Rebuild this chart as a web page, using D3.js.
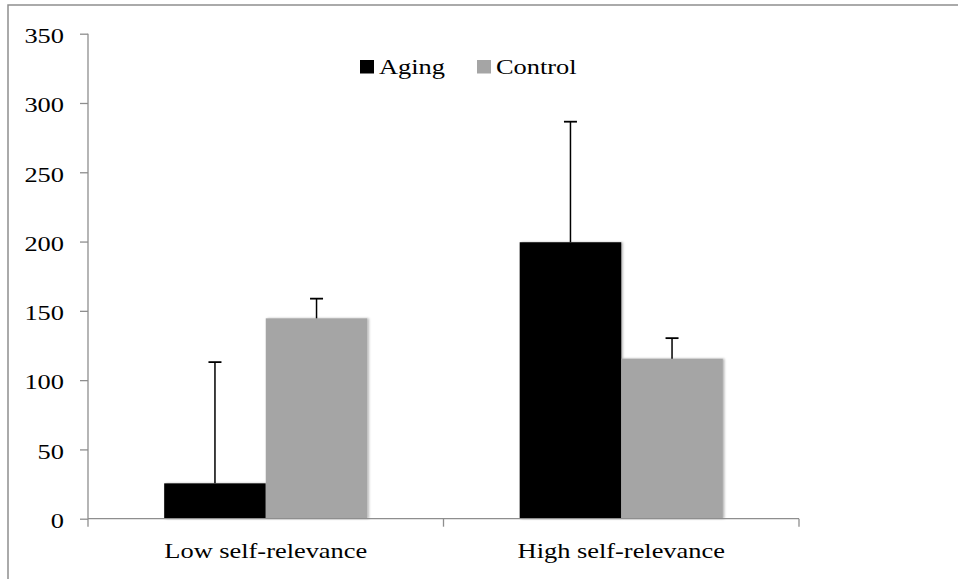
<!DOCTYPE html>
<html><head><meta charset="utf-8">
<script src="https://cdn.jsdelivr.net/npm/d3@7"></script>
<style>html,body{margin:0;padding:0;background:#fff;}svg{display:block;}</style>
</head><body>
<svg id="chart" width="958" height="579"></svg>
<script>
const categories = ["Low self-relevance", "High self-relevance"];
const seriesNames = ["Aging", "Control"];
const agingValues = [25.5, 199.5];
const agingErrors = [87.5, 87];
const controlValues = [144.6, 115.5];
const controlErrors = [14.2, 14.8];
const yTicks = [0, 50, 100, 150, 200, 250, 300, 350];
const colors = ["#000000", "#a5a5a5"];

const svg = d3.select("#chart");
const FONT = "Liberation Serif";
const FS = 22, SX = 1.2; // the reference is horizontally stretched
const mLeft = 88, mRight = 799, mTop = 33.7, mBottom = 518.7;

// outer frame (left and top edges visible)
svg.append("path").attr("d", `M8,579 V5 H958`).attr("fill", "none")
  .attr("stroke", "#8e8e8e").attr("stroke-width", 1.5);

const x = d3.scaleBand().domain(categories).range([mLeft, mRight]).paddingInner(0).paddingOuter(0);
const x1 = d3.scaleBand().domain(seriesNames).range([0, x.bandwidth()]).paddingInner(0).paddingOuter(0.75);
const y = d3.scaleLinear().domain([0, 350]).range([mBottom, mTop]);

const data = categories.map((c, i) => ({
  cat: c,
  vals: [
    { s: "Aging", v: agingValues[i], e: agingErrors[i], c: colors[0] },
    { s: "Control", v: controlValues[i], e: controlErrors[i], c: colors[1] }
  ]
}));

// shadow filter
const defs = svg.append("defs");
const f = defs.append("filter").attr("id", "sh").attr("x", "-10%").attr("y", "-10%").attr("width", "130%").attr("height", "130%");
f.append("feDropShadow").attr("dx", 1.5).attr("dy", 0).attr("stdDeviation", 1.2).attr("flood-color", "#000").attr("flood-opacity", 0.3);

const g = svg.append("g");
const groups = g.selectAll("g.cat").data(data).join("g").attr("class", "cat").attr("transform", d => `translate(${x(d.cat)},0)`);
groups.selectAll("rect").data(d => d.vals).join("rect")
  .attr("x", d => x1(d.s)).attr("width", x1.bandwidth())
  .attr("y", d => y(d.v)).attr("height", d => y(0) - y(d.v))
  .attr("fill", d => d.c).attr("filter", "url(#sh)");

// error bars
const eb = groups.selectAll("g.eb").data(d => d.vals).join("g").attr("class", "eb");
eb.append("line")
  .attr("x1", d => x1(d.s) + x1.bandwidth() / 2).attr("x2", d => x1(d.s) + x1.bandwidth() / 2)
  .attr("y1", d => y(d.v)).attr("y2", d => y(d.v + d.e))
  .attr("stroke", "#000").attr("stroke-width", 1.5);
eb.append("line")
  .attr("x1", d => x1(d.s) + x1.bandwidth() / 2 - 6.5).attr("x2", d => x1(d.s) + x1.bandwidth() / 2 + 6.5)
  .attr("y1", d => y(d.v + d.e)).attr("y2", d => y(d.v + d.e))
  .attr("stroke", "#000").attr("stroke-width", 1.8);

// y axis
const yAxis = d3.axisLeft(y).tickValues(yTicks).tickSize(8).tickPadding(16);
const ya = svg.append("g").attr("transform", `translate(${mLeft},0)`).call(yAxis);
ya.attr("font-family", FONT).attr("font-size", FS);
ya.select(".domain").attr("stroke", "#8e8e8e").attr("stroke-width", 1.3).attr("d", `M0,${mBottom}V${mTop}`);
ya.selectAll(".tick line").attr("stroke", "#8e8e8e").attr("stroke-width", 1.3);
ya.selectAll(".tick text").attr("x", null).attr("transform", `translate(-24,0) scale(${SX},1)`)
  .attr("fill", "#000").attr("dy", "0.4em");

// x axis
const xa = svg.append("g").attr("transform", `translate(0,${mBottom})`);
xa.append("line").attr("x1", mLeft).attr("x2", mRight).attr("y1", 0).attr("y2", 0).attr("stroke", "#8e8e8e").attr("stroke-width", 1.3);
const xTickPos = [mLeft, x(categories[1]), mRight];
xa.selectAll("line.t").data(xTickPos).join("line").attr("class", "t")
  .attr("x1", d => d).attr("x2", d => d).attr("y1", 0).attr("y2", 8)
  .attr("stroke", "#8e8e8e").attr("stroke-width", 1.3);
xa.selectAll("text").data(categories).join("text")
  .attr("transform", d => `translate(${x(d) + x.bandwidth() / 2},39.5) scale(${SX},1)`)
  .attr("text-anchor", "middle").attr("font-family", FONT).attr("font-size", FS).attr("fill", "#000")
  .text(d => d);

// legend
const legendX = [360, 477];
const lg = svg.append("g");
const li = lg.selectAll("g").data(seriesNames).join("g").attr("transform", (d, i) => `translate(${legendX[i]},60)`);
li.append("rect").attr("width", 14).attr("height", 13.5).attr("fill", (d, i) => colors[i]);
li.append("text").attr("transform", `translate(19,14) scale(${SX},1)`)
  .attr("font-family", FONT).attr("font-size", FS).attr("fill", "#000").text(d => d);
</script>
</body></html>
